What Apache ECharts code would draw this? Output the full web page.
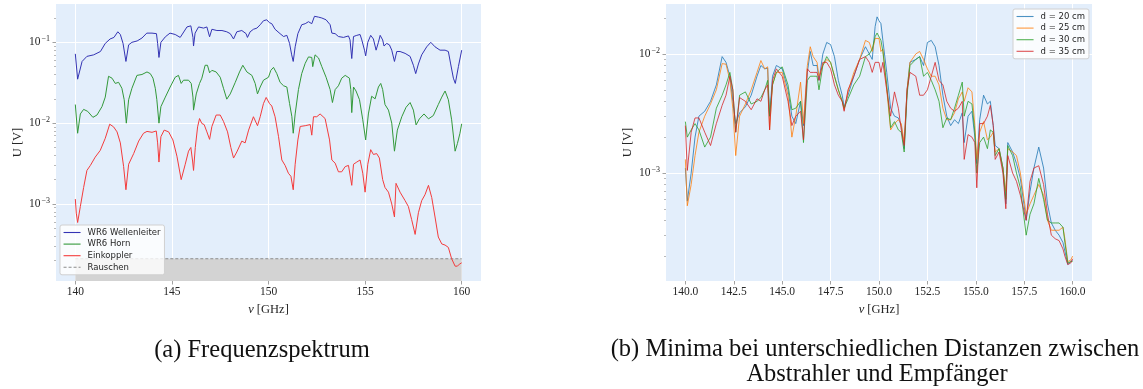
<!DOCTYPE html>
<html>
<head>
<meta charset="utf-8">
<script src="https://cdn.jsdelivr.net/npm/echarts@6/dist/echarts.min.js"></script>
<style>
  html, body { margin: 0; padding: 0; background: #ffffff; }
  #chart { width: 1143px; height: 389px; }
</style>
</head>
<body>
<div id="chart"></div>
<script>
// ---- (a) Frequenzspektrum: [frequency in GHz, voltage in V] ----
const wr6Wellenleiter = [
  [140.0,0.072],[140.12,0.035],[140.35,0.058],[140.6,0.067],[140.95,0.07],[141.3,0.077],[141.55,0.097],[141.8,0.11],[142.0,0.115],[142.2,0.135],
  [142.33,0.125],[142.47,0.097],[142.62,0.058],[142.76,0.093],[142.93,0.1],[143.2,0.104],[143.45,0.113],[143.7,0.13],[143.97,0.13],[144.2,0.128],
  [144.26,0.097],[144.33,0.065],[144.43,0.1],[144.66,0.117],[144.9,0.13],[145.17,0.125],[145.43,0.115],[145.5,0.12],[145.78,0.155],[145.98,0.16],
  [146.09,0.115],[146.12,0.09],[146.2,0.13],[146.38,0.155],[146.64,0.15],[146.81,0.155],[146.95,0.117],[147.07,0.145],[147.33,0.14],[147.59,0.14],
  [147.84,0.135],[148.02,0.128],[148.19,0.11],[148.36,0.135],[148.62,0.14],[148.84,0.128],[148.91,0.115],[149.05,0.135],[149.22,0.145],[149.4,0.15],
  [149.57,0.165],[149.74,0.185],[149.91,0.19],[150.05,0.175],[150.17,0.17],[150.34,0.145],[150.6,0.128],[150.78,0.118],[150.95,0.122],[151.09,0.097],
  [151.2,0.07],[151.28,0.058],[151.38,0.088],[151.52,0.128],[151.72,0.165],[151.9,0.17],[152.07,0.18],[152.16,0.19],[152.24,0.17],[152.38,0.21],
  [152.59,0.205],[152.76,0.2],[152.98,0.19],[153.19,0.165],[153.28,0.13],[153.36,0.132],[153.45,0.128],[153.62,0.118],[153.88,0.115],[154.14,0.12],
  [154.22,0.107],[154.31,0.063],[154.4,0.118],[154.57,0.122],[154.74,0.125],[154.83,0.107],[154.97,0.08],[155.03,0.068],[155.14,0.1],[155.29,0.122],
  [155.43,0.11],[155.57,0.08],[155.69,0.1],[155.78,0.122],[155.91,0.107],[155.98,0.09],[156.12,0.097],[156.26,0.093],[156.38,0.08],[156.52,0.058],
  [156.64,0.077],[156.81,0.077],[157.07,0.073],[157.33,0.067],[157.5,0.052],[157.62,0.041],[157.76,0.054],[157.93,0.07],[158.19,0.088],[158.4,0.1],
  [158.62,0.088],[158.88,0.08],[159.14,0.08],[159.31,0.077],[159.43,0.054],[159.57,0.036],[159.67,0.031],[159.83,0.05],[160.0,0.08]
];

const wr6Horn = [
  [140.0,0.017],[140.12,0.0075],[140.26,0.013],[140.43,0.0148],[140.64,0.014],[140.91,0.0118],[141.12,0.0126],[141.38,0.016],[141.55,0.021],[141.72,0.038],
  [141.9,0.036],[142.07,0.031],[142.24,0.032],[142.41,0.027],[142.53,0.0195],[142.64,0.01],[142.76,0.0195],[142.93,0.027],[143.19,0.039],[143.45,0.04],
  [143.71,0.043],[143.88,0.041],[144.02,0.036],[144.14,0.027],[144.22,0.0195],[144.33,0.01],[144.43,0.016],[144.66,0.021],[144.91,0.028],[145.17,0.037],
  [145.34,0.039],[145.48,0.031],[145.6,0.034],[145.86,0.034],[146.0,0.031],[146.09,0.021],[146.12,0.0145],[146.26,0.023],[146.43,0.031],[146.55,0.036],
  [146.72,0.052],[146.84,0.052],[146.95,0.042],[147.07,0.045],[147.29,0.043],[147.5,0.037],[147.67,0.027],[147.84,0.0198],[148.02,0.023],[148.28,0.032],
  [148.5,0.043],[148.67,0.052],[148.88,0.043],[149.14,0.039],[149.31,0.031],[149.43,0.023],[149.57,0.028],[149.74,0.034],[150.0,0.037],[150.12,0.045],
  [150.26,0.049],[150.43,0.041],[150.6,0.032],[150.78,0.029],[150.95,0.028],[151.09,0.0175],[151.21,0.012],[151.28,0.0075],[151.38,0.013],[151.55,0.026],
  [151.72,0.041],[151.9,0.055],[152.07,0.066],[152.24,0.065],[152.29,0.05],[152.41,0.07],[152.59,0.064],[152.76,0.05],[152.98,0.037],[153.19,0.026],
  [153.31,0.018],[153.45,0.026],[153.62,0.029],[153.79,0.036],[153.97,0.039],[154.19,0.036],[154.26,0.026],[154.31,0.0135],[154.4,0.028],[154.53,0.025],
  [154.71,0.0195],[154.88,0.011],[155.03,0.0062],[155.17,0.013],[155.34,0.0215],[155.52,0.02],[155.69,0.028],[155.81,0.031],[155.91,0.026],[156.03,0.017],
  [156.21,0.0145],[156.38,0.01],[156.52,0.0045],[156.67,0.0082],[156.9,0.012],[157.12,0.0157],[157.33,0.018],[157.5,0.0145],[157.64,0.0095],[157.81,0.0113],
  [158.05,0.013],[158.28,0.0113],[158.53,0.0124],[158.79,0.017],[158.97,0.021],[159.14,0.025],[159.31,0.0195],[159.48,0.011],[159.66,0.0045],[159.78,0.0056],
  [159.91,0.0075],[160.0,0.0098]
];

const einkoppler = [
  [140.0,0.00115],[140.05,0.00077],[140.12,0.00059],[140.26,0.00093],[140.43,0.0016],[140.6,0.0026],[140.78,0.003],[141.03,0.0038],[141.29,0.0046],[141.55,0.0065],
  [141.78,0.0097],[141.98,0.009],[142.16,0.0078],[142.33,0.0057],[142.5,0.0029],[142.62,0.0015],[142.76,0.0031],[143.02,0.0042],[143.28,0.006],[143.53,0.0075],
  [143.71,0.0079],[143.97,0.0077],[144.19,0.008],[144.26,0.0057],[144.33,0.0033],[144.43,0.0068],[144.6,0.0082],[144.83,0.0078],[145.05,0.0062],[145.26,0.0039],
  [145.48,0.002],[145.69,0.0031],[145.86,0.0045],[145.98,0.005],[146.07,0.0034],[146.12,0.0026],[146.21,0.005],[146.33,0.009],[146.43,0.0114],[146.55,0.0099],
  [146.67,0.0096],[146.81,0.0078],[146.95,0.0063],[147.07,0.0091],[147.29,0.0126],[147.5,0.0126],[147.67,0.0105],[147.88,0.0078],[148.05,0.005],[148.19,0.0037],
  [148.36,0.0044],[148.62,0.006],[148.79,0.0057],[148.97,0.0082],[149.22,0.012],[149.43,0.0093],[149.57,0.012],[149.74,0.0175],[149.88,0.0208],[150.05,0.0175],
  [150.17,0.0163],[150.34,0.012],[150.52,0.0068],[150.69,0.0035],[150.86,0.003],[151.03,0.0024],[151.16,0.0022],[151.28,0.0015],[151.38,0.0031],[151.52,0.0062],
  [151.64,0.0091],[151.9,0.0093],[152.16,0.0096],[152.24,0.0071],[152.33,0.012],[152.5,0.012],[152.67,0.013],[152.93,0.0114],[153.16,0.0062],[153.28,0.0035],
  [153.45,0.0032],[153.62,0.0025],[153.79,0.0025],[153.97,0.0029],[154.14,0.003],[154.22,0.0031],[154.31,0.0017],[154.4,0.0031],[154.57,0.0033],[154.74,0.0035],
  [154.88,0.0024],[155.0,0.0014],[155.14,0.0031],[155.29,0.0047],[155.43,0.0041],[155.6,0.0042],[155.74,0.0037],[155.91,0.002],[156.03,0.0016],[156.21,0.0014],
  [156.38,0.001],[156.52,0.00069],[156.6,0.0018],[156.81,0.0014],[157.07,0.0011],[157.24,0.00093],[157.41,0.00064],[157.59,0.00042],[157.76,0.00078],[157.93,0.0011],
  [158.1,0.0013],[158.28,0.0017],[158.45,0.0012],[158.62,0.00069],[158.79,0.00039],[158.97,0.00032],[159.14,0.00031],[159.31,0.00029],[159.48,0.00021],[159.66,0.00017],
  [159.78,0.00017],[159.88,0.00018],[160.0,0.000187]
];

// noise floor, drawn as a dashed line with the shaded region below it
const rauschenGHz = [140, 160];
const rauschenV = [2.1e-4, 2.1e-4];

// ---- (b) minima at different distances: shared frequency grid ----
const minimaGHz = [
  140.0,140.1,140.3,140.5,140.7,141.0,141.3,141.6,141.9,142.1,
  142.3,142.45,142.6,142.8,143.1,143.4,143.7,143.9,144.1,144.25,
  144.35,144.5,144.7,145.0,145.3,145.5,145.7,145.95,146.1,146.3,
  146.45,146.6,146.8,146.9,147.1,147.3,147.5,147.7,147.9,148.1,
  148.2,148.4,148.7,149.0,149.3,149.5,149.65,149.8,149.9,150.0,
  150.1,150.2,150.4,150.6,150.8,151.0,151.15,151.3,151.45,151.6,
  151.9,152.1,152.3,152.5,152.7,152.9,153.1,153.3,153.5,153.7,
  153.9,154.1,154.3,154.4,154.6,154.8,154.95,155.05,155.2,155.4,
  155.6,155.75,155.9,156.0,156.2,156.4,156.55,156.65,156.9,157.1,
  157.3,157.6,157.8,158.0,158.25,158.5,158.7,158.9,159.1,159.3,
  159.5,159.6,159.75,159.9,160.0
];

const d20 = [
  1.1e-3,5.8e-4,1.0e-3,2.0e-3,3.0e-3,3.3e-3,4.0e-3,5.5e-3,9.5e-3,8.5e-3,
  6.5e-3,4.0e-3,2.6e-3,3.2e-3,3.6e-3,4.5e-3,6.5e-3,8.0e-3,7.5e-3,7.6e-3,
  3.0e-3,6.5e-3,8.0e-3,7.5e-3,5.0e-3,3.0e-3,2.6e-3,4.0e-3,2.5e-3,7.0e-3,
  1.05e-2,8.0e-3,8.0e-3,6.0e-3,1.0e-2,1.25e-2,1.2e-2,9.5e-3,6.0e-3,4.5e-3,
  3.6e-3,4.5e-3,6.5e-3,9.0e-3,1.15e-2,1.0e-2,9.0e-3,1.7e-2,2.05e-2,1.9e-2,
  1.8e-2,1.3e-2,7.0e-3,3.5e-3,3.0e-3,2.9e-3,2.5e-3,1.6e-3,5.0e-3,8.5e-3,
  9.0e-3,9.5e-3,8.0e-3,1.25e-2,1.3e-2,1.15e-2,8.0e-3,4.5e-3,3.0e-3,2.5e-3,
  2.8e-3,2.6e-3,3.2e-3,1.8e-3,3.0e-3,3.3e-3,2.0e-3,1.2e-3,2.8e-3,4.5e-3,
  3.8e-3,4.0e-3,2.5e-3,1.7e-3,1.6e-3,1.1e-3,5.5e-4,1.8e-3,1.5e-3,1.2e-3,
  9.0e-4,4.0e-4,7.0e-4,1.1e-3,1.65e-3,1.1e-3,5.5e-4,3.8e-4,3.3e-4,3.0e-4,
  2.6e-4,2.2e-4,1.7e-4,1.8e-4,1.85e-4
];

const d25 = [
  1.3e-3,5.3e-4,8.0e-4,1.4e-3,2.2e-3,3.0e-3,3.8e-3,5.0e-3,8.3e-3,8.2e-3,
  6.0e-3,3.5e-3,1.4e-3,3.0e-3,3.8e-3,5.0e-3,7.0e-3,8.8e-3,7.5e-3,7.8e-3,
  2.3e-3,5.5e-3,7.0e-3,7.0e-3,4.5e-3,2.0e-3,3.0e-3,5.8e-3,2.6e-3,8.0e-3,
  1.15e-2,9.5e-3,8.5e-3,6.5e-3,8.0e-3,9.0e-3,8.5e-3,6.5e-3,5.0e-3,4.0e-3,
  3.4e-3,4.8e-3,7.0e-3,9.0e-3,1.3e-2,1.25e-2,1.05e-2,1.35e-2,1.4e-2,1.35e-2,
  1.05e-2,1.1e-2,5.0e-3,2.3e-3,2.6e-3,2.8e-3,2.6e-3,1.8e-3,5.0e-3,8.5e-3,
  1.0e-2,1.05e-2,9.0e-3,7.5e-3,6.5e-3,6.5e-3,5.5e-3,3.5e-3,2.8e-3,2.8e-3,
  3.2e-3,4.2e-3,4.8e-3,4.0e-3,5.2e-3,4.8e-3,2.5e-3,1.3e-3,2.2e-3,2.7e-3,
  1.9e-3,2.0e-3,2.2e-3,1.5e-3,1.6e-3,1.1e-3,7.0e-4,1.6e-3,1.5e-3,1.4e-3,
  1.0e-3,4.5e-4,5.5e-4,6.5e-4,8.0e-4,6.5e-4,4.0e-4,3.3e-4,3.3e-4,3.3e-4,
  3.5e-4,2.8e-4,1.8e-4,1.85e-4,2.0e-4
];

const d30 = [
  2.7e-3,2.0e-3,2.3e-3,2.6e-3,2.3e-3,1.65e-3,2.0e-3,3.5e-3,4.5e-3,5.5e-3,
  7.0e-3,5.0e-3,2.2e-3,4.5e-3,4.8e-3,3.8e-3,4.0e-3,4.3e-3,5.0e-3,6.0e-3,
  3.0e-3,5.5e-3,7.0e-3,7.8e-3,5.5e-3,3.4e-3,3.5e-3,4.0e-3,1.8e-3,6.0e-3,
  6.5e-3,6.5e-3,6.5e-3,5.0e-3,8.0e-3,9.5e-3,8.5e-3,6.5e-3,5.0e-3,4.0e-3,
  3.5e-3,4.2e-3,5.5e-3,6.5e-3,9.5e-3,1.0e-2,1.1e-2,1.4e-2,1.5e-2,1.45e-2,
  1.3e-2,1.05e-2,5.5e-3,2.4e-3,2.7e-3,2.3e-3,2.2e-3,1.5e-3,4.5e-3,8.0e-3,
  9.0e-3,9.5e-3,6.5e-3,7.0e-3,6.0e-3,5.0e-3,4.0e-3,2.4e-3,2.9e-3,2.8e-3,
  3.5e-3,4.5e-3,5.8e-3,3.0e-3,4.0e-3,3.8e-3,2.2e-3,1.0e-3,1.8e-3,2.0e-3,
  1.6e-3,2.3e-3,2.2e-3,1.4e-3,1.6e-3,1.1e-3,6.0e-4,1.7e-3,1.4e-3,1.0e-3,
  7.5e-4,3.0e-4,4.5e-4,5.5e-4,9.0e-4,6.0e-4,4.0e-4,3.8e-4,3.8e-4,3.8e-4,
  3.5e-4,2.6e-4,1.75e-4,1.8e-4,1.8e-4
];

const d35 = [
  2.5e-3,1.05e-3,2.2e-3,2.9e-3,2.9e-3,2.2e-3,1.7e-3,2.6e-3,3.7e-3,4.5e-3,
  6.5e-3,5.0e-3,2.2e-3,4.3e-3,4.0e-3,3.4e-3,4.2e-3,4.0e-3,5.0e-3,5.5e-3,
  2.3e-3,6.0e-3,7.5e-3,6.5e-3,4.0e-3,2.5e-3,3.0e-3,3.3e-3,1.9e-3,7.5e-3,
  7.0e-3,7.0e-3,7.0e-3,6.0e-3,8.5e-3,8.5e-3,7.5e-3,5.5e-3,4.5e-3,4.0e-3,
  3.3e-3,5.0e-3,6.5e-3,9.0e-3,9.5e-3,8.5e-3,7.0e-3,8.5e-3,8.8e-3,8.5e-3,
  7.0e-3,8.5e-3,5.0e-3,3.0e-3,4.8e-3,3.5e-3,2.3e-3,1.7e-3,5.0e-3,7.0e-3,
  6.5e-3,4.5e-3,4.5e-3,5.0e-3,6.5e-3,8.5e-3,6.0e-3,5.5e-3,4.0e-3,3.5e-3,
  3.3e-3,3.5e-3,4.0e-3,1.3e-3,2.1e-3,2.0e-3,1.8e-3,7.5e-4,2.6e-3,2.6e-3,
  3.0e-3,3.7e-3,2.5e-3,1.3e-3,1.5e-3,1.0e-3,5.0e-4,1.4e-3,1.0e-3,8.5e-4,
  6.5e-4,4.0e-4,8.5e-4,1.1e-3,1.15e-3,8.0e-4,4.5e-4,3.0e-4,2.8e-4,2.7e-4,
  2.3e-4,2.0e-4,1.7e-4,1.75e-4,1.9e-4
];

// ---- tick values ----
const ticksA = [140, 145, 150, 155, 160];
const ticksB = [140, 142.5, 145, 147.5, 150, 152.5, 155, 157.5, 160];
const decadesA = [1e-3, 1e-2, 1e-1];
const decadesB = [1e-3, 1e-2];

// ---- styling ----
const SERIF = 'Liberation Serif';
const SANS = 'DejaVu Sans';
const PLOT_BG = '#e3eefb';
const TICK_COLOR = '#8a8a8a';
const TEXT_COLOR = '#262626';

function minorLogTicks(lo, hi) {
  const out = [];
  for (let e = -6; e <= 1; e++) {
    for (let m = 2; m <= 9; m++) {
      const v = m * Math.pow(10, e);
      if (v > lo && v < hi) out.push(v);
    }
  }
  return out;
}

function pairs(xs, ys) { return xs.map((x, i) => [x, ys[i]]); }

const yRangeA = [1.114e-4, 0.298];
const yRangeB = [1.236e-4, 0.0263];

function xAxisFor(gridIndex, ticks, fmt) {
  return {
    type: 'value', gridIndex, min: 139, max: 161,
    name: '{i|ν} [GHz]', nameLocation: 'middle', nameGap: 12,
    nameTextStyle: {
      fontFamily: SERIF, fontSize: 12.5, color: TEXT_COLOR,
      rich: { i: { fontFamily: SERIF, fontSize: 12.5, fontStyle: 'italic', color: TEXT_COLOR } }
    },
    axisLine: { show: false },
    axisTick: { show: true, customValues: ticks, length: 3.5, lineStyle: { color: TICK_COLOR, width: 0.8 } },
    axisLabel: { customValues: ticks, margin: 5, fontFamily: SERIF, fontSize: 11.5, color: TEXT_COLOR, formatter: fmt },
    splitLine: { show: true, lineStyle: { color: '#ffffff', width: 1 } }
  };
}

function yMajorAxis(gridIndex, range, decades) {
  return {
    type: 'log', logBase: 10, gridIndex, min: range[0], max: range[1],
    name: 'U [V]', nameLocation: 'middle', nameGap: 32,
    nameTextStyle: { fontFamily: SERIF, fontSize: 12.5, color: TEXT_COLOR },
    axisLine: { show: false },
    axisTick: { show: true, customValues: decades, length: 3.5, lineStyle: { color: TICK_COLOR, width: 0.8 } },
    axisLabel: {
      customValues: decades, margin: 6, fontFamily: SERIF, fontSize: 11.5, color: TEXT_COLOR,
      formatter: v => '10{s|−' + (-Math.round(Math.log10(v))) + '}',
      rich: { s: { fontFamily: SERIF, fontSize: 8, color: TEXT_COLOR, padding: [0, 0, 7, 1] } }
    },
    splitLine: { show: true, lineStyle: { color: '#ffffff', width: 1 } }
  };
}

function yMinorAxis(gridIndex, range) {
  return {
    type: 'log', logBase: 10, gridIndex, min: range[0], max: range[1], position: 'left',
    axisLine: { show: false },
    axisTick: { show: true, customValues: minorLogTicks(range[0], range[1]), length: 2, lineStyle: { color: TICK_COLOR, width: 0.6 } },
    axisLabel: { show: false },
    splitLine: { show: false }
  };
}

function lineSeries(name, data, color, xi, yi, extra) {
  return Object.assign({
    type: 'line', name, data, xAxisIndex: xi, yAxisIndex: yi,
    symbol: 'none', showSymbol: false, smooth: false, z: 3,
    lineStyle: { color, width: 1 }, itemStyle: { color }
  }, extra || {});
}

const legendBase = {
  orient: 'vertical', itemWidth: 17, itemHeight: 10, itemGap: 2.6,
  backgroundColor: 'rgba(255,255,255,0.8)', borderColor: '#d0d0d0', borderWidth: 1, borderRadius: 2,
  itemStyle: { opacity: 0 },
  lineStyle: { width: 1.1 },
  textStyle: { fontFamily: SANS, fontSize: 8.5, color: TEXT_COLOR, padding: [0, 0, 0, 2] }
};

const captionFont = '24.5px "Liberation Serif"';

const option = {
  animation: false,
  backgroundColor: '#ffffff',
  grid: [
    { left: 56, top: 4, width: 425, height: 277, show: true, backgroundColor: PLOT_BG, borderWidth: 0 },
    { left: 666, top: 4, width: 426, height: 277, show: true, backgroundColor: PLOT_BG, borderWidth: 0 }
  ],
  xAxis: [
    xAxisFor(0, ticksA, v => String(v)),
    xAxisFor(1, ticksB, v => v.toFixed(1))
  ],
  yAxis: [
    yMajorAxis(0, yRangeA, decadesA),
    yMinorAxis(0, yRangeA),
    yMajorAxis(1, yRangeB, decadesB),
    yMinorAxis(1, yRangeB)
  ],
  legend: [
    Object.assign({}, legendBase, {
      left: 60, top: 225, padding: [3, 4, 3, 3],
      data: ['WR6 Wellenleiter', 'WR6 Horn', 'Einkoppler', 'Rauschen']
    }),
    Object.assign({}, legendBase, {
      left: 1013, top: 9, padding: [3, 4, 3, 3],
      data: ['d = 20 cm', 'd = 25 cm', 'd = 30 cm', 'd = 35 cm']
    })
  ],
  series: [
    lineSeries('Rauschen', pairs(rauschenGHz, rauschenV), '#8c8c8c', 0, 0, {
      z: 1,
      lineStyle: { color: '#8c8c8c', width: 1, type: [3, 2] },
      areaStyle: { color: '#d3d3d3', opacity: 1, origin: 'start' }
    }),
    lineSeries('WR6 Wellenleiter', wr6Wellenleiter, '#3434b4', 0, 0),
    lineSeries('WR6 Horn', wr6Horn, '#33993a', 0, 0),
    lineSeries('Einkoppler', einkoppler, '#f43c3c', 0, 0),
    lineSeries('d = 20 cm', pairs(minimaGHz, d20), 'rgba(31,119,180,0.8)', 1, 2),
    lineSeries('d = 25 cm', pairs(minimaGHz, d25), 'rgba(255,127,14,0.8)', 1, 2),
    lineSeries('d = 30 cm', pairs(minimaGHz, d30), 'rgba(44,160,44,0.8)', 1, 2),
    lineSeries('d = 35 cm', pairs(minimaGHz, d35), 'rgba(214,39,40,0.8)', 1, 2)
  ],
  graphic: [
    { type: 'text', x: 262, y: 351, style: { text: '(a) Frequenzspektrum', font: captionFont, fill: '#111', align: 'center', verticalAlign: 'middle' } },
    { type: 'text', x: 875, y: 350, style: { text: '(b) Minima bei unterschiedlichen Distanzen zwischen', font: captionFont, fill: '#111', align: 'center', verticalAlign: 'middle' } },
    { type: 'text', x: 877, y: 375, style: { text: 'Abstrahler und Empfänger', font: captionFont, fill: '#111', align: 'center', verticalAlign: 'middle' } }
  ]
};

const chart = echarts.init(document.getElementById('chart'));
chart.setOption(option);
</script>
</body>
</html>
